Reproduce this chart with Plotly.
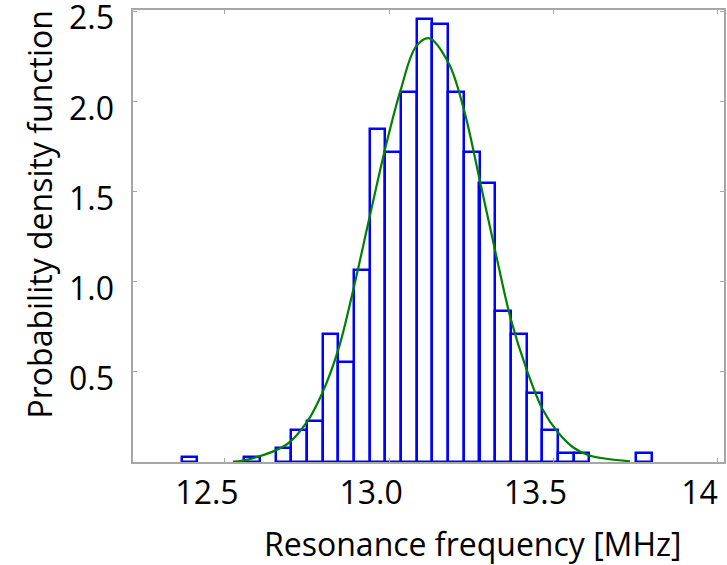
import plotly.graph_objects as go

# Histogram bins (bin centres, MHz) and probability densities
bin_centers = [12.3917, 12.5827, 12.6782, 12.7260, 12.7738, 12.8215, 12.8693,
               12.9170, 12.9648, 13.0126, 13.0603, 13.1081, 13.1558, 13.2036,
               13.2514, 13.2991, 13.3469, 13.3946, 13.4424, 13.4902, 13.5379,
               13.5857, 13.7767]
densities = [0.025, 0.025, 0.076, 0.177, 0.228, 0.709, 0.557,
             1.063, 1.848, 1.722, 2.051, 2.456, 2.431, 2.051,
             1.722, 1.545, 0.836, 0.709, 0.380, 0.177, 0.051,
             0.051, 0.051]
bin_width = 0.04776

# Fitted PDF curve
curve_x = [12.524, 12.5557, 12.6879, 12.7489, 12.7964, 12.8451, 12.8908, 12.9386,
           12.9895, 13.0352, 13.0818, 13.1223, 13.1814, 13.2280, 13.2758, 13.3245,
           13.3711, 13.4190, 13.4677, 13.5152, 13.5621, 13.6097, 13.7336]
curve_y = [0.002, 0.008, 0.097, 0.220, 0.383, 0.623, 0.956, 1.343,
           1.750, 2.064, 2.304, 2.350, 2.212, 1.953, 1.565, 1.159,
           0.789, 0.512, 0.291, 0.162, 0.079, 0.036, 0.004]

x_tickvals = [12.5, 13.0, 13.5, 14.0]
x_ticktext = ["12.5", "13.0", "13.5", "14"]
y_tickvals = [0.5, 1.0, 1.5, 2.0, 2.5]
y_ticktext = ["0.5", "1.0", "1.5", "2.0", "2.5"]
x_title = "Resonance frequency [MHz]"
y_title = "Probability density function"

FONT = "Open Sans"
GRAY = "#a6a6a6"
Y_RANGE = [0, 2.507]
Y_LABEL_DROP = 7 / 180.5  # tick labels sit slightly below their tick marks

fig = go.Figure()
fig.add_trace(go.Bar(
    x=bin_centers, y=densities, width=[bin_width] * len(bin_centers),
    marker=dict(color="rgba(255,255,255,0)", line=dict(color="#0000ff", width=2.5)),
    showlegend=False, hoverinfo="x+y",
))
fig.add_trace(go.Scatter(
    x=curve_x, y=curve_y, mode="lines",
    line=dict(color="#008000", width=2.2, shape="spline", smoothing=1.0),
    showlegend=False,
))
# carrier for the label axis (no visible marks)
fig.add_trace(go.Scatter(x=[None], y=[None], yaxis="y2", showlegend=False, hoverinfo="skip"))

fig.update_layout(
    width=727, height=565,
    margin=dict(l=133, r=3, t=10, b=103),
    plot_bgcolor="white", paper_bgcolor="white",
    bargap=0,
    font=dict(family=FONT, color="black"),
    xaxis=dict(
        range=[12.2198, 14.02], tickvals=x_tickvals, ticktext=x_ticktext,
        ticks="inside", ticklen=4, tickcolor=GRAY, tickwidth=1,
        showline=True, linecolor=GRAY, linewidth=1.5, mirror="ticks",
        showgrid=False, zeroline=False, automargin=False,
        ticklabeloverflow="allow",
        tickfont=dict(size=32, family=FONT, color="black"),
        ticklabelshift=-18, ticklabelstandoff=2,
    ),
    yaxis=dict(
        range=Y_RANGE, tickvals=y_tickvals, showticklabels=False,
        ticks="inside", ticklen=4, tickcolor=GRAY, tickwidth=1,
        showline=True, linecolor=GRAY, linewidth=1.5, mirror="ticks",
        showgrid=False, zeroline=False, automargin=False,
    ),
    yaxis2=dict(
        overlaying="y", anchor="x", side="left",
        range=[Y_RANGE[0] + Y_LABEL_DROP, Y_RANGE[1] + Y_LABEL_DROP],
        tickvals=y_tickvals, ticktext=y_ticktext, ticks="",
        showline=False, showgrid=False, zeroline=False, automargin=False,
        ticklabeloverflow="allow",
        tickfont=dict(size=32, family=FONT, color="black"),
        ticklabelstandoff=18,
    ),
    annotations=[
        dict(text=x_title, xref="paper", yref="paper", x=(472 - 133) / 591, y=(462 - 543) / 452,
             xanchor="center", yanchor="middle", showarrow=False,
             font=dict(size=32, family=FONT, color="black")),
        dict(text=y_title, xref="paper", yref="paper", x=(38.5 - 133) / 591, y=(462 - 215) / 452,
             xanchor="center", yanchor="middle", showarrow=False, textangle=-90,
             font=dict(size=32, family=FONT, color="black")),
    ],
)

fig.write_html("out.html", config={"displayModeBar": False},
               post_script="document.body.style.margin='0px';")
